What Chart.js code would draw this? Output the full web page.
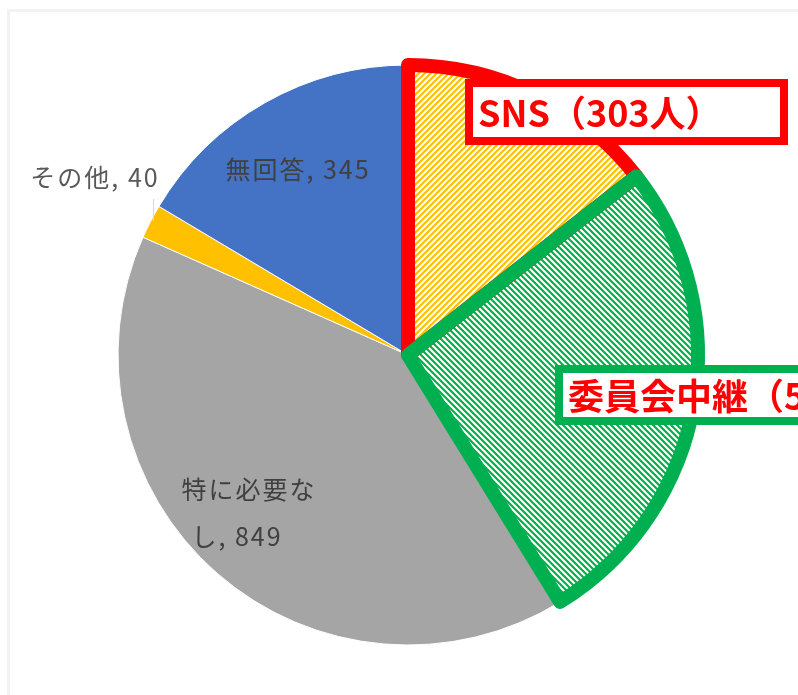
<!DOCTYPE html>
<html>
<head>
<meta charset="utf-8">
<script src="https://cdn.jsdelivr.net/npm/chart.js@4.4.1/dist/chart.umd.min.js"></script>
<style>
  html, body { margin: 0; padding: 0; background: #fff; overflow: hidden; }
  #wrap { position: relative; width: 798px; height: 695px; }
  #frame {
    position: absolute; left: 7px; top: 9px; width: 820px; height: 720px;
    border: 3px solid #f2f2f2; box-sizing: border-box;
  }
  #pieChart { position: absolute; left: 0; top: 0; }
</style>
</head>
<body>
<div id="wrap">
  <div id="frame"></div>
  <canvas id="pieChart" width="798" height="695"></canvas>
</div>
<script>
const categories = ["SNS", "委員会中継", "特に必要なし", "その他", "無回答"];
const counts = [303, 562, 849, 40, 345];
const sliceColors = ["#ffc000", "#00b050", "#a5a5a5", "#ffc000", "#4472c4"];
const outlineColors = ["#ff0000", "#00b050"];

const FONT = '"Noto Sans CJK JP", "Noto Sans", sans-serif';
const canvasEl = document.getElementById("pieChart");

// diagonal hatch tile, dir 1 = "/" and -1 = "\"
function hatch(color, dir) {
  const s = 6;
  const c = document.createElement("canvas");
  c.width = s;
  c.height = s;
  const g = c.getContext("2d");
  g.fillStyle = "#fff";
  g.fillRect(0, 0, s, s);
  g.strokeStyle = color;
  g.lineWidth = 2.2;
  g.beginPath();
  if (dir > 0) {
    g.moveTo(-1, s + 1); g.lineTo(s + 1, -1);
    g.moveTo(-1, 1); g.lineTo(1, -1);
    g.moveTo(s - 1, s + 1); g.lineTo(s + 1, s - 1);
  } else {
    g.moveTo(-1, -1); g.lineTo(s + 1, s + 1);
    g.moveTo(-1, s - 1); g.lineTo(1, s + 1);
    g.moveTo(s - 1, -1); g.lineTo(s + 1, 1);
  }
  g.stroke();
  return canvasEl.getContext("2d").createPattern(c, "repeat");
}

const fills = sliceColors.slice();
fills[0] = hatch(sliceColors[0], 1);
fills[1] = hatch(sliceColors[1], -1);

// thick outlines on the two highlighted slices
const outlinePlugin = {
  id: "outline",
  afterDatasetsDraw(chart) {
    const ctx = chart.ctx;
    const arcs = chart.getDatasetMeta(0).data;
    ctx.save();
    outlineColors.forEach((col, i) => {
      const a = arcs[i];
      ctx.beginPath();
      ctx.moveTo(a.x, a.y);
      ctx.arc(a.x, a.y, a.outerRadius, a.startAngle, a.endAngle);
      ctx.closePath();
      ctx.lineWidth = 14;
      ctx.lineJoin = "round";
      ctx.strokeStyle = col;
      ctx.stroke();
    });
    ctx.restore();
  },
};

// data labels, placed like the original
const labelPlugin = {
  id: "labels",
  afterDraw(chart) {
    const ctx = chart.ctx;
    const arc = chart.getDatasetMeta(0).data[0];
    const cx = arc.x, cy = arc.y;
    ctx.save();
    ctx.textBaseline = "middle";
    ctx.textAlign = "center";

    ctx.font = "25px " + FONT;
    ctx.letterSpacing = "2px";
    ctx.fillStyle = "#404040";
    ctx.fillText(categories[4] + ", " + counts[4], cx - 110, cy - 186);
    ctx.fillText("特に必要な", cx - 159, cy + 134);
    ctx.fillText("し, " + counts[2], cx - 171, cy + 181);

    ctx.fillStyle = "#595959";
    ctx.fillText(categories[3] + ", " + counts[3], cx - 313, cy - 178);
    ctx.strokeStyle = "#d9d9d9";
    ctx.lineWidth = 1;
    ctx.beginPath();
    ctx.moveTo(cx - 254.5, cy - 156);
    ctx.lineTo(cx - 254.5, cy - 134);
    ctx.stroke();

    // callout boxes
    const boxes = [
      { i: 0, x: 465, y: 79, w: 323, h: 66, border: "#ff0000" },
      { i: 1, x: 555, y: 365, w: 260, h: 60, border: "#00b050" },
    ];
    ctx.font = "bold 36px " + FONT;
    ctx.letterSpacing = "0px";
    ctx.textAlign = "left";
    boxes.forEach((b) => {
      ctx.fillStyle = "#fff";
      ctx.fillRect(b.x, b.y, b.w, b.h);
      ctx.lineWidth = 8;
      ctx.strokeStyle = b.border;
      ctx.strokeRect(b.x + 4, b.y + 4, b.w - 8, b.h - 8);
      ctx.fillStyle = "#ff0000";
      ctx.fillText(categories[b.i] + "（" + counts[b.i] + "人）", b.x + 13, b.y + b.h / 2 + 1);
    });
    ctx.restore();
  },
};

new Chart(canvasEl, {
  type: "pie",
  data: {
    labels: categories,
    datasets: [
      {
        data: counts,
        backgroundColor: fills,
        borderColor: "#ffffff",
        borderWidth: 1,
        hoverBorderWidth: 1,
        hoverOffset: 0,
      },
    ],
  },
  options: {
    responsive: false,
    animation: false,
    events: [],
    layout: {
      padding: { left: 117.5, right: 99.5, top: 64.5, bottom: 49.5 },
    },
    plugins: {
      legend: { display: false },
      tooltip: { enabled: false },
    },
  },
  plugins: [outlinePlugin, labelPlugin],
});
</script>
</body>
</html>
